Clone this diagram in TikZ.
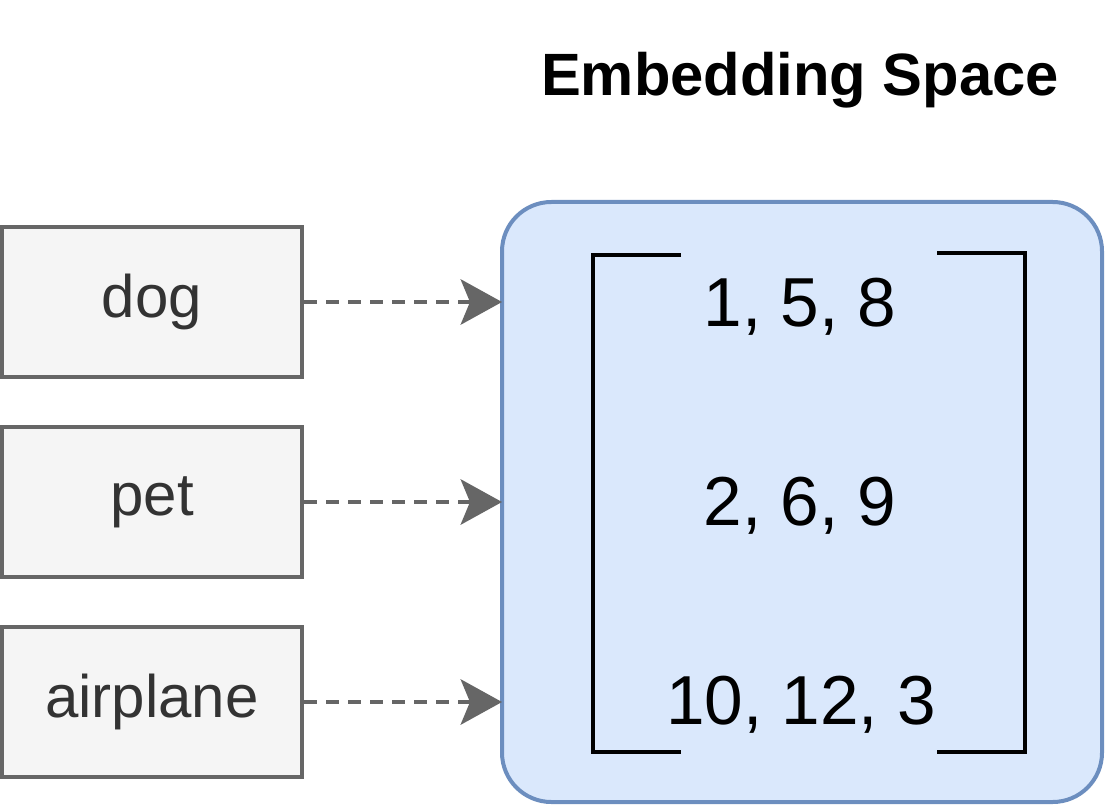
\documentclass[tikz,border=0pt]{standalone}
\usepackage{fontspec}
\setmainfont{Liberation Sans}
\usetikzlibrary{arrows.meta}
\definecolor{wordfill}{HTML}{F5F5F5}
\definecolor{wordline}{HTML}{666666}
\definecolor{wordtext}{HTML}{333333}
\definecolor{spacefill}{HTML}{DAE8FC}
\definecolor{spaceline}{HTML}{6C8EBF}
\begin{document}
\begin{tikzpicture}[x=0.75pt,y=-0.75pt,
  wordbox/.style={draw=wordline,fill=wordfill,line width=3pt,minimum width=225pt,minimum height=112.5pt,inner sep=0pt,text=wordtext,font=\fontsize{45}{52}\selectfont},
  vec/.style={font=\fontsize{52}{60}\selectfont,text=black,inner sep=0pt},
  emb/.style={draw=wordline,line width=3pt,dash pattern=on 9.5pt off 7pt,-{Stealth[length=31pt,width=34pt,inset=7pt]}},
  brk/.style={draw=black,line width=3pt}]
\useasboundingbox (0,0) rectangle (1105,805);
\node[draw=spaceline,fill=spacefill,line width=3pt,rounded corners=37pt,minimum width=450pt,minimum height=450pt,inner sep=0pt] (space) at (802,502) {};
\node[font=\bfseries\fontsize{44.8}{52}\selectfont,inner sep=0pt] (title) at (800,80) {Embedding Space};
\node[wordbox] (dog) at (152,302) {dog};
\node[wordbox] (pet) at (152,502) {pet};
\node[wordbox] (air) at (152,702) {airplane};
\coordinate (tdog) at (502,302);
\coordinate (tpet) at (502,502);
\coordinate (tair) at (502,702);
\draw[emb] (dog.east) -- (tdog);
\draw[emb] (pet.east) -- (tpet);
\draw[emb] (air.east) -- (tair);
\node[vec] (v1) at (800,307) {1, 5, 8};
\node[vec] (v2) at (800,506) {2, 6, 9};
\node[vec] (v3) at (801,705) {10, 12, 3};
\draw[brk] (681,255) -- (593,255) -- (593,752) -- (681,752);
\draw[brk] (937,253) -- (1025,253) -- (1025,752) -- (937,752);
\end{tikzpicture}
\end{document}
